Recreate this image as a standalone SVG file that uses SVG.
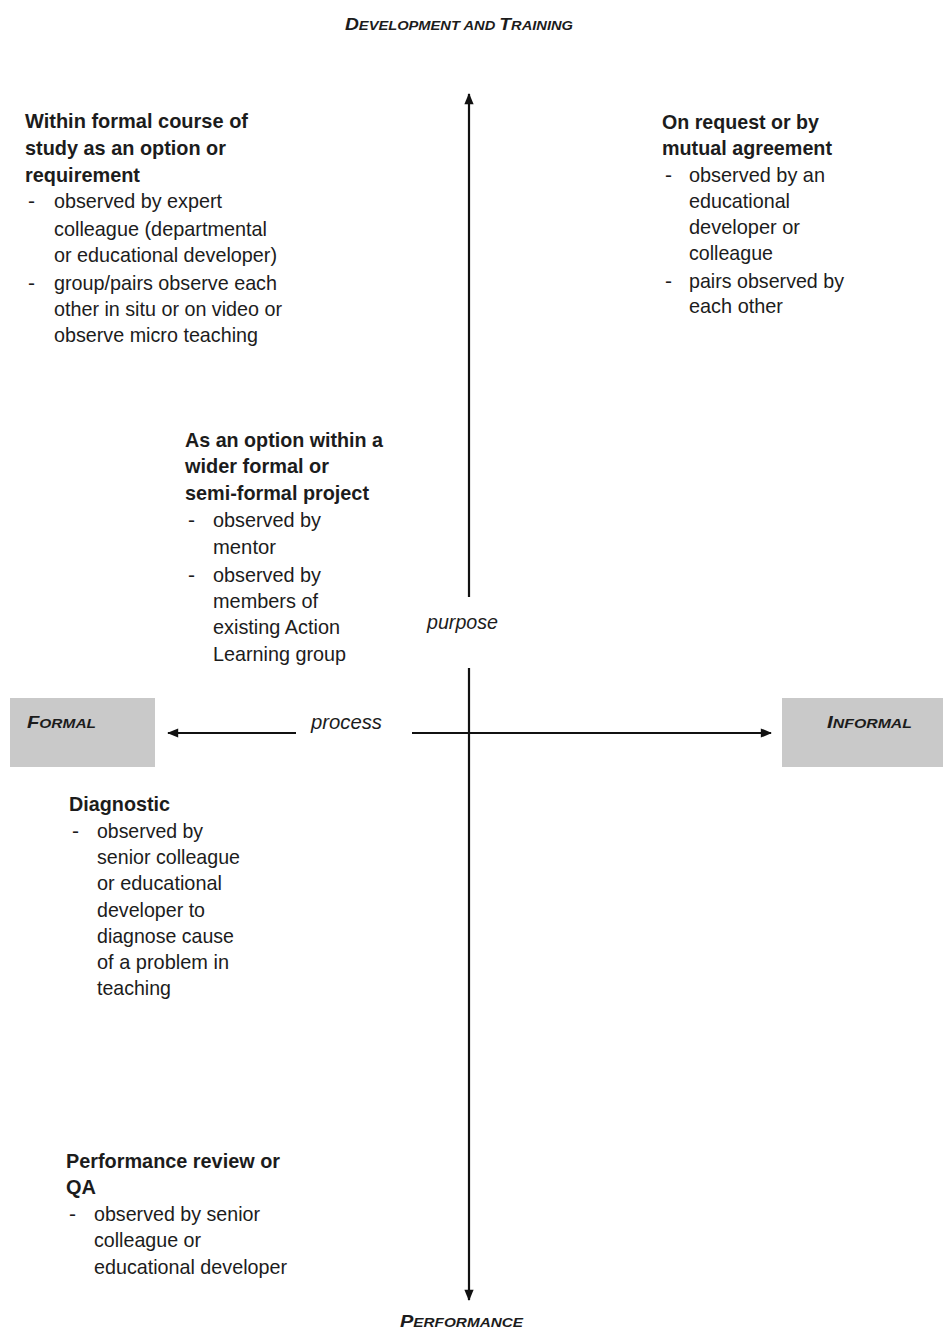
<svg xmlns="http://www.w3.org/2000/svg" width="943" height="1329" viewBox="0 0 943 1329">
<defs>
<style>
text{font-family:"Liberation Sans",Arial,sans-serif;fill:#1c1c1c;font-size:21px}
.b{font-weight:bold}
.i{font-style:italic}
.sc{font-weight:bold;font-style:italic}
.ln{stroke:#111;stroke-width:2.2;fill:none}
.box{fill:#c9c9c9}
</style>
<marker id="ah" viewBox="0 0 12 10" refX="11" refY="5" markerWidth="5.5" markerHeight="4.2" orient="auto" markerUnits="strokeWidth">
<path d="M0,0 L12,5 L0,10 z" fill="#111"/>
</marker>
</defs>
<rect width="943" height="1329" fill="#fff"/>

<g id="connectors">
<line class="ln" x1="469" y1="597" x2="469" y2="94" marker-end="url(#ah)"/>
<line class="ln" x1="469" y1="668" x2="469" y2="1300" marker-end="url(#ah)"/>
<line class="ln" x1="296" y1="733" x2="168" y2="733" marker-end="url(#ah)"/>
<line class="ln" x1="412" y1="733" x2="771" y2="733" marker-end="url(#ah)"/>
</g>

<g id="label-top">
<text class="sc" x="345" y="30" textLength="228" lengthAdjust="spacingAndGlyphs"><tspan font-size="17">D</tspan><tspan font-size="13">EVELOPMENT AND </tspan><tspan font-size="17">T</tspan><tspan font-size="13">RAINING</tspan></text>
</g>

<g id="label-bottom">
<text class="sc" x="400" y="1327" textLength="123" lengthAdjust="spacingAndGlyphs"><tspan font-size="17">P</tspan><tspan font-size="13">ERFORMANCE</tspan></text>
</g>

<g id="formal">
<rect class="box" x="10" y="698" width="145" height="69"/>
<text class="sc" x="27" y="728" textLength="69" lengthAdjust="spacingAndGlyphs"><tspan font-size="17">F</tspan><tspan font-size="13">ORMAL</tspan></text>
</g>

<g id="informal">
<rect class="box" x="782" y="698" width="161" height="69"/>
<text class="sc" x="827" y="728" textLength="85" lengthAdjust="spacingAndGlyphs"><tspan font-size="17">I</tspan><tspan font-size="13">NFORMAL</tspan></text>
</g>

<g id="label-purpose">
<text class="i" x="427" y="629" textLength="71" lengthAdjust="spacingAndGlyphs">purpose</text>
</g>
<g id="label-process">
<text class="i" x="311" y="729" textLength="71" lengthAdjust="spacingAndGlyphs">process</text>
</g>

<g id="node-formal-course">
<text class="b" x="25" y="128" textLength="223" lengthAdjust="spacingAndGlyphs">Within formal course of</text>
<text class="b" x="25" y="155" textLength="201" lengthAdjust="spacingAndGlyphs">study as an option or</text>
<text class="b" x="25" y="182" textLength="115" lengthAdjust="spacingAndGlyphs">requirement</text>
<text x="28" y="208">-</text>
<text x="54" y="208" textLength="168" lengthAdjust="spacingAndGlyphs">observed by expert</text>
<text x="54" y="236" textLength="213" lengthAdjust="spacingAndGlyphs">colleague (departmental</text>
<text x="54" y="262" textLength="223" lengthAdjust="spacingAndGlyphs">or educational developer)</text>
<text x="28" y="290">-</text>
<text x="54" y="290" textLength="223" lengthAdjust="spacingAndGlyphs">group/pairs observe each</text>
<text x="54" y="316" textLength="228" lengthAdjust="spacingAndGlyphs">other in situ or on video or</text>
<text x="54" y="342" textLength="204" lengthAdjust="spacingAndGlyphs">observe micro teaching</text>
</g>

<g id="node-on-request">
<text class="b" x="662" y="129" textLength="157" lengthAdjust="spacingAndGlyphs">On request or by</text>
<text class="b" x="662" y="155" textLength="170" lengthAdjust="spacingAndGlyphs">mutual agreement</text>
<text x="665" y="182">-</text>
<text x="689" y="182" textLength="136" lengthAdjust="spacingAndGlyphs">observed by an</text>
<text x="689" y="208" textLength="101" lengthAdjust="spacingAndGlyphs">educational</text>
<text x="689" y="234" textLength="111" lengthAdjust="spacingAndGlyphs">developer or</text>
<text x="689" y="260" textLength="84" lengthAdjust="spacingAndGlyphs">colleague</text>
<text x="665" y="288">-</text>
<text x="689" y="288" textLength="155" lengthAdjust="spacingAndGlyphs">pairs observed by</text>
<text x="689" y="313" textLength="94" lengthAdjust="spacingAndGlyphs">each other</text>
</g>

<g id="node-option-project">
<text class="b" x="185" y="447" textLength="198" lengthAdjust="spacingAndGlyphs">As an option within a</text>
<text class="b" x="185" y="473" textLength="144" lengthAdjust="spacingAndGlyphs">wider formal or</text>
<text class="b" x="185" y="500" textLength="184" lengthAdjust="spacingAndGlyphs">semi-formal project</text>
<text x="188" y="527">-</text>
<text x="213" y="527" textLength="108" lengthAdjust="spacingAndGlyphs">observed by</text>
<text x="213" y="554" textLength="63" lengthAdjust="spacingAndGlyphs">mentor</text>
<text x="188" y="582">-</text>
<text x="213" y="582" textLength="108" lengthAdjust="spacingAndGlyphs">observed by</text>
<text x="213" y="608" textLength="105" lengthAdjust="spacingAndGlyphs">members of</text>
<text x="213" y="634" textLength="127" lengthAdjust="spacingAndGlyphs">existing Action</text>
<text x="213" y="661" textLength="133" lengthAdjust="spacingAndGlyphs">Learning group</text>
</g>

<g id="node-diagnostic">
<text class="b" x="69" y="811" textLength="101" lengthAdjust="spacingAndGlyphs">Diagnostic</text>
<text x="72" y="838">-</text>
<text x="97" y="838" textLength="106" lengthAdjust="spacingAndGlyphs">observed by</text>
<text x="97" y="864" textLength="143" lengthAdjust="spacingAndGlyphs">senior colleague</text>
<text x="97" y="890" textLength="125" lengthAdjust="spacingAndGlyphs">or educational</text>
<text x="97" y="917" textLength="108" lengthAdjust="spacingAndGlyphs">developer to</text>
<text x="97" y="943" textLength="137" lengthAdjust="spacingAndGlyphs">diagnose cause</text>
<text x="97" y="969" textLength="132" lengthAdjust="spacingAndGlyphs">of a problem in</text>
<text x="97" y="995" textLength="74" lengthAdjust="spacingAndGlyphs">teaching</text>
</g>

<g id="node-performance-review">
<text class="b" x="66" y="1168" textLength="214" lengthAdjust="spacingAndGlyphs">Performance review or</text>
<text class="b" x="66" y="1194" textLength="30" lengthAdjust="spacingAndGlyphs">QA</text>
<text x="69" y="1221">-</text>
<text x="94" y="1221" textLength="166" lengthAdjust="spacingAndGlyphs">observed by senior</text>
<text x="94" y="1247" textLength="107" lengthAdjust="spacingAndGlyphs">colleague or</text>
<text x="94" y="1274" textLength="193" lengthAdjust="spacingAndGlyphs">educational developer</text>
</g>
</svg>
